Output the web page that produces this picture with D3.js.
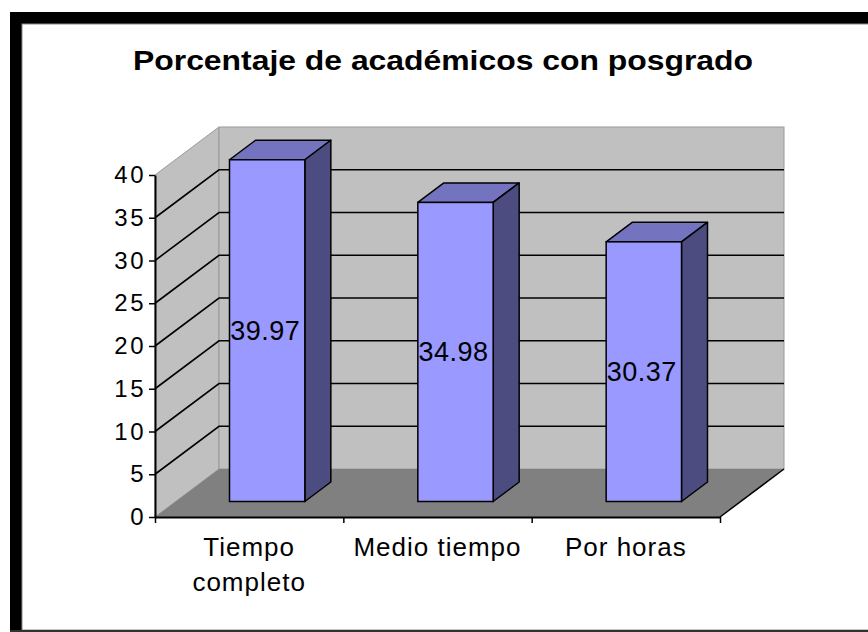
<!DOCTYPE html>
<html>
<head>
<meta charset="utf-8">
<script src="https://cdn.jsdelivr.net/npm/d3@7"></script>
<style>
  html, body { margin: 0; padding: 0; background: #fff; }
  svg { display: block; }
  text { font-family: 'Liberation Sans', Arial, sans-serif; fill: #000; }
</style>
</head>
<body>
<main></main>
<script>
'use strict'

var title      = 'Porcentaje de académicos con posgrado'
var categories = ['Tiempo completo', 'Medio tiempo', 'Por horas']
var values     = [39.97, 34.98, 30.37]
var yTicks     = [0, 5, 10, 15, 20, 25, 30, 35, 40]

var W = 868, H = 632
var depth = { x: 64, y: -48 }        // wall depth
var barOff = { x: 18, y: -15.5 }     // bar front from floor front edge
var barDepth = { x: 26, y: -19.5 }

var svg = d3.select('main').append('svg')
  .attr('width', W)
  .attr('height', H)

// frame
svg.append('rect').attr('x', 10).attr('y', 12).attr('width', 900).attr('height', 700).attr('fill', '#000')
svg.append('rect').attr('x', 22).attr('y', 24).attr('width', 900).attr('height', 606)
  .attr('fill', '#fff').attr('stroke', '#888').attr('stroke-width', 1)
svg.append('rect').attr('x', 0).attr('y', 630).attr('width', W).attr('height', 2).attr('fill', '#333')
svg.append('rect').attr('x', 0).attr('y', 0).attr('width', 10).attr('height', H).attr('fill', '#fff')

svg.append('text')
  .attr('x', 443).attr('y', 70)
  .attr('text-anchor', 'middle')
  .attr('font-size', 28).attr('font-weight', 'bold')
  .attr('textLength', 620).attr('lengthAdjust', 'spacingAndGlyphs')
  .text(title)

var x = d3.scaleBand().domain(categories).range([155, 720])
var y = d3.scaleLinear().domain([0, 40]).range([517, 175])
var x0 = x.range()[0], x1 = x.range()[1]
var bw = x.bandwidth() * 0.4

function pts (arr) { return arr.map(function (p) { return p.join(',') }).join(' ') }

var g = svg.append('g')

// side wall
g.append('polygon')
  .attr('points', pts([[x0, y(0)], [x0, y(40)], [x0 + depth.x, y(40) + depth.y], [x0 + depth.x, y(0) + depth.y]]))
  .attr('fill', '#c0c0c0').attr('stroke', '#9a9a9a').attr('stroke-width', 1)
// back wall
g.append('rect')
  .attr('x', x0 + depth.x).attr('y', y(40) + depth.y)
  .attr('width', x1 - x0).attr('height', y(0) - y(40))
  .attr('fill', '#c0c0c0').attr('stroke', '#9a9a9a').attr('stroke-width', 1)
// floor
g.append('polygon')
  .attr('points', pts([[x0, y(0)], [x1, y(0)], [x1 + depth.x, y(0) + depth.y], [x0 + depth.x, y(0) + depth.y]]))
  .attr('fill', '#808080')
g.append('line')
  .attr('x1', x1).attr('y1', y(0)).attr('x2', x1 + depth.x).attr('y2', y(0) + depth.y)
  .attr('stroke', '#000').attr('stroke-width', 1.5)

// gridlines on side and back walls
g.selectAll('.grid')
  .data(yTicks.filter(function (v) { return v > 0 && v < 40 }))
  .enter().append('polyline')
  .attr('class', 'grid')
  .attr('fill', 'none').attr('stroke', '#000').attr('stroke-width', 1.6)
  .attr('points', function (v) {
    return pts([[x0, y(v)], [x0 + depth.x, y(v) + depth.y], [x1 + depth.x, y(v) + depth.y]])
  })

// bars
var data = categories.map(function (c, i) { return { cat: c, value: values[i] } })
var bar = g.selectAll('.bar').data(data).enter().append('g').attr('class', 'bar')

function geom (d) {
  var fx = x(d.cat) + x.bandwidth() / 2 - bw / 2 + barOff.x
  var fb = y(0) + barOff.y
  var ft = fb - (y(0) - y(d.value))
  return { fx: fx, fb: fb, ft: ft }
}

bar.append('polygon')
  .attr('points', function (d) {
    var b = geom(d)
    return pts([[b.fx, b.ft], [b.fx + bw, b.ft], [b.fx + bw + barDepth.x, b.ft + barDepth.y], [b.fx + barDepth.x, b.ft + barDepth.y]])
  })
  .attr('fill', '#7373bf').attr('stroke', '#000').attr('stroke-width', 1.5).attr('stroke-linejoin', 'round')

bar.append('polygon')
  .attr('points', function (d) {
    var b = geom(d)
    return pts([[b.fx + bw, b.ft], [b.fx + bw + barDepth.x, b.ft + barDepth.y], [b.fx + bw + barDepth.x, b.fb + barDepth.y], [b.fx + bw, b.fb]])
  })
  .attr('fill', '#4c4c80').attr('stroke', '#000').attr('stroke-width', 1.5).attr('stroke-linejoin', 'round')

bar.append('rect')
  .attr('x', function (d) { return geom(d).fx })
  .attr('y', function (d) { return geom(d).ft })
  .attr('width', bw)
  .attr('height', function (d) { return geom(d).fb - geom(d).ft })
  .attr('fill', '#9999ff').attr('stroke', '#000').attr('stroke-width', 1.5)

bar.append('text')
  .attr('x', function (d) { return geom(d).fx + bw / 2 - 2 })
  .attr('y', function (d) { var b = geom(d); return (b.ft + b.fb) / 2 })
  .attr('dy', '0.35em')
  .attr('text-anchor', 'middle')
  .attr('font-size', 27).attr('letter-spacing', 0.5)
  .text(function (d) { return d.value.toFixed(2) })

// y axis
var yAxis = svg.append('g')
  .attr('transform', 'translate(' + x0 + ',0)')
  .call(d3.axisLeft(y).tickValues(yTicks).tickSize(6).tickSizeOuter(0).tickPadding(3))
yAxis.select('.domain').attr('stroke', '#000').attr('stroke-width', 2)
yAxis.selectAll('.tick line').attr('stroke', '#000').attr('stroke-width', 1.5)
yAxis.selectAll('.tick text')
  .attr('font-family', "'Liberation Sans', Arial, sans-serif")
  .attr('font-size', 24).attr('letter-spacing', 2.5).attr('fill', '#000')

// x axis: ticks on category boundaries
var xb = d3.scaleLinear().domain([0, categories.length]).range([x0, x1])
var xAxis = svg.append('g')
  .attr('transform', 'translate(0,' + y(0) + ')')
  .call(d3.axisBottom(xb).tickValues(d3.range(categories.length + 1)).tickFormat('').tickSize(6).tickSizeOuter(0))
xAxis.select('.domain').attr('stroke', '#000').attr('stroke-width', 2)
xAxis.selectAll('.tick line').attr('stroke', '#000').attr('stroke-width', 1.5)

// category labels, wrapped to the band width
var lab = svg.selectAll('.cat').data(categories).enter().append('text')
  .attr('class', 'cat')
  .attr('text-anchor', 'middle')
  .attr('font-size', 26).attr('letter-spacing', 1)
  .attr('x', function (c) { return x(c) + x.bandwidth() / 2 })
  .attr('y', 556)

lab.each(function (c) {
  var el = d3.select(this)
  var cx = x(c) + x.bandwidth() / 2
  el.text(c)
  if (this.getComputedTextLength() <= x.bandwidth()) return
  el.text(null)
  c.split(' ').forEach(function (w, i) {
    el.append('tspan').attr('x', cx).attr('dy', i ? 35 : 0).text(w)
  })
})
</script>
</body>
</html>
